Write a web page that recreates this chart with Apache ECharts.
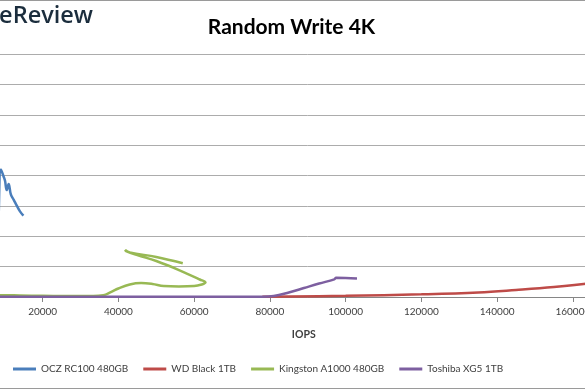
<!DOCTYPE html>
<html>
<head>
<meta charset="utf-8">
<script src="https://cdn.jsdelivr.net/npm/echarts@6/dist/echarts.min.js"></script>
<style>html,body{margin:0;padding:0;background:#fff;overflow:hidden;width:585px;height:390px;position:relative}#c{position:absolute;left:-39px;top:0;width:708px;height:390px}</style>
</head>
<body>
<div id="c"></div>
<script>
// Series names
const seriesNames = ["OCZ RC100 480GB", "WD Black 1TB", "Kingston A1000 480GB", "Toshiba XG5 1TB"];
// [IOPS, latency] points
const ocz = [[1500,0.1],[4000,0.3],[6500,1.5],[8000,8],[9000,21],[9824,19.6],[10080,19.1],[10510,17.6],[11020,18.6],[11600,16.9],[12370,16.0],[13210,15.0],[14020,14.1],[14920,13.4]];
const wd = [[78000,0.05],[100000,0.2],[120000,0.44],[135000,0.74],[145000,1.15],[155000,1.64],[165000,2.3],[175000,3.2]];
const kingston = [[1000,0.3],[10000,0.3],[14000,0.25],[20000,0.2],[30000,0.15],[36000,0.3],[38000,0.8],[40000,1.4],[43000,2.06],[46000,2.3],[49000,2.14],[52000,1.8],[56000,1.73],[60000,1.8],[62000,2.06],[63000,2.38],[61500,2.88],[56000,4.44],[50000,5.92],[45000,6.9],[42000,7.57],[41800,7.73],[43000,7.35],[50000,6.58],[57000,5.55]];
const toshiba = [[1000,0.05],[20000,0.05],[50000,0.05],[78000,0.06],[81000,0.16],[85000,0.74],[89000,1.48],[93000,2.22],[97000,2.9],[97500,3.15],[100000,3.13],[103000,3.04]];
const xTicks = {min: 0, max: 180000, interval: 20000};
const yTicks = {min: 0, max: 40, interval: 5};

const colors = ["#4a7ebb", "#be4b48", "#98b954", "#7d5fa0"];
const dataSets = [ocz, wd, kingston, toshiba];
const font = "Lato, 'Open Sans', sans-serif";
const OFF = 39; // chart div is shifted left by this many pixels

const chart = echarts.init(document.getElementById('c'), null, {renderer: 'canvas'});
chart.setOption({
  animation: false,
  backgroundColor: '#fff',
  color: colors,
  graphic: [
    {type: 'rect', shape: {x: 0, y: 0.5, width: 708, height: 388}, style: {fill: 'none', stroke: '#9a9a9a', lineWidth: 1}, z: 0, silent: true},
    {type: 'text', x: 93 + OFF, y: 4, style: {text: 'StorageReview', align: 'right', verticalAlign: 'top', font: "600 23.5px 'Open Sans', sans-serif", fill: '#1b2d3d'}},
    {type: 'text', x: 291.5 + OFF, y: 27, style: {text: 'Random Write 4K', align: 'center', verticalAlign: 'middle', font: "bold 21px Lato, sans-serif", fill: '#000'}}
  ],
  legend: {
    left: 13 + OFF, top: 364, padding: 0, itemGap: 15, itemWidth: 23, itemHeight: 3, icon: 'rect',
    textStyle: {fontFamily: font, fontSize: 10, color: '#404040'},
    data: seriesNames
  },
  grid: {left: 0, right: 0.6, top: 54, bottom: 93, containLabel: false},
  xAxis: {
    type: 'value', min: xTicks.min, max: xTicks.max, interval: xTicks.interval,
    name: 'IOPS', nameLocation: 'middle', nameGap: 32,
    nameTextStyle: {fontFamily: font, fontSize: 10.5, fontWeight: 'bold', color: '#404040', padding: [0, 8, 0, 0]},
    axisLine: {show: true, lineStyle: {color: '#868686'}},
    axisTick: {show: true, length: 5, lineStyle: {color: '#868686'}},
    axisLabel: {fontFamily: font, fontSize: 10, color: '#404040', margin: 10, formatter: v => String(v)},
    splitLine: {show: false}
  },
  yAxis: {
    type: 'value', min: yTicks.min, max: yTicks.max, interval: yTicks.interval,
    axisLine: {show: false}, axisTick: {show: false}, axisLabel: {show: false},
    splitLine: {show: true, lineStyle: {color: '#acacac', width: 1}}
  },
  series: dataSets.map((d, i) => ({
    name: seriesNames[i], type: 'line', data: d, smooth: 0.4,
    showSymbol: false, symbol: 'none',
    lineStyle: {width: 2.5, color: colors[i]},
    z: 2 + (i === 1 ? 0 : i)
  }))
});
</script>
</body>
</html>
